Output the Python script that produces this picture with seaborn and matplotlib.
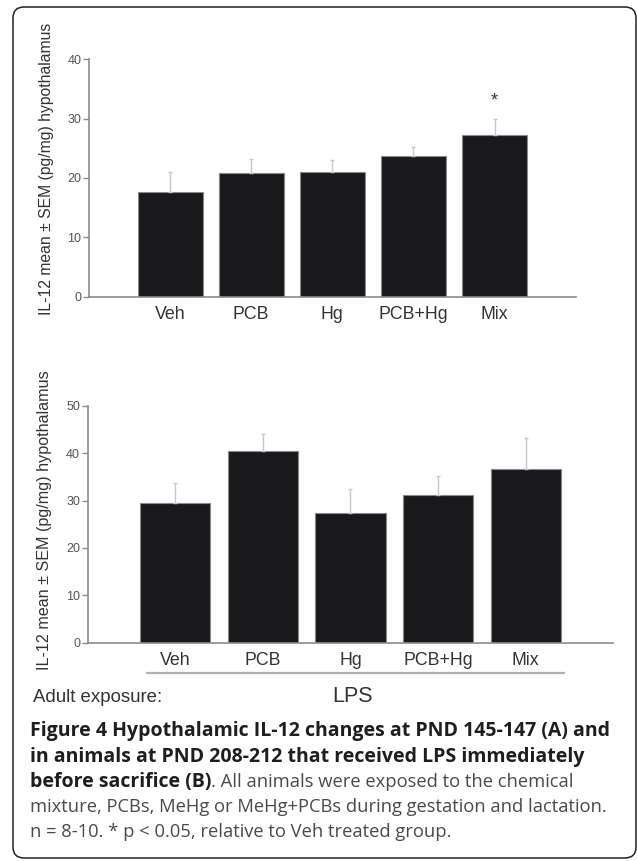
import matplotlib
matplotlib.use("Agg")
import matplotlib.pyplot as plt
import seaborn as sns
import numpy as np
import pandas as pd
from matplotlib.patches import FancyBboxPatch
from matplotlib.lines import Line2D
from matplotlib.transforms import IdentityTransform

# ---- data ----
groups = ["Veh", "PCB", "Hg", "PCB+Hg", "Mix"]
pnd145_mean = [17.7, 20.9, 21.0, 23.7, 27.2]
pnd145_sem = [3.3, 2.3, 2.1, 1.5, 2.8]
lps_mean = [29.5, 40.4, 27.4, 31.2, 36.6]
lps_sem = [4.1, 3.6, 5.0, 3.9, 6.5]
top_ticks = [0, 10, 20, 30, 40]
bot_ticks = [0, 10, 20, 30, 40, 50]
sig_top = ["", "", "", "", "*"]

ylabel = "IL-12 mean \u00b1 SEM (pg/mg) hypothalamus"

sns.set_theme(style="white")
plt.rcParams["font.family"] = ["Liberation Sans", "DejaVu Sans"]

W, H = 637, 861
fig = plt.figure(figsize=(W / 100, H / 100), dpi=100)
fig.patch.set_facecolor("white")

BAR = "#19191b"
EDGE = "#8a8a8a"
AXC = "#8c8c8c"
TXT = "#333333"
ERR = "#c8c8c8"


def px_ax(x0, x1, y_top, y_bot):
    return fig.add_axes([x0 / W, 1 - y_bot / H, (x1 - x0) / W, (y_bot - y_top) / H])


def draw(ax, means, sems, ticks, ymax, sig=None):
    df = pd.DataFrame({"group": groups, "value": means})
    sns.barplot(data=df, x="group", y="value", order=groups, color=BAR,
                width=0.8, edgecolor=EDGE, linewidth=0.8, saturation=1,
                errorbar=None, ax=ax)
    xs = np.arange(len(groups))
    ax.errorbar(xs, means, yerr=[np.zeros(len(sems)), sems], fmt="none",
                ecolor=ERR, elinewidth=1.0, capsize=1.5, capthick=1.0, zorder=1)
    if sig is not None:
        for x, m, s, t in zip(xs, means, sems, sig):
            if t:
                ax.text(x, m + s + 1.6, t, ha="center", va="bottom",
                        fontsize=13, color=TXT)
    ax.set_xlim(-1, 5)
    ax.set_ylim(0, ymax)
    ax.set_yticks(ticks)
    ax.set_yticklabels([str(t) for t in ticks])
    ax.set_xlabel("")
    ax.set_ylabel("")
    for s in ["top", "right"]:
        ax.spines[s].set_visible(False)
    for s in ["left", "bottom"]:
        ax.spines[s].set_color(AXC)
        ax.spines[s].set_linewidth(1.2)
    ax.tick_params(axis="y", which="both", left=True, length=4, width=1.0,
                   color=AXC, pad=1.5, labelsize=9, labelcolor="#555555")
    ax.tick_params(axis="x", which="both", bottom=False, length=0, pad=7,
                   labelsize=12.8, labelcolor=TXT)
    ax.set_facecolor("none")


ax1 = px_ax(89, 575.7, 59.3, 296.7)
draw(ax1, pnd145_mean, pnd145_sem, top_ticks, 40, sig_top)

ax2 = px_ax(87.7, 613.3, 405.7, 642.7)
draw(ax2, lps_mean, lps_sem, bot_ticks, 50)

fig.text(47 / W, 1 - 169 / H, ylabel, rotation=90, ha="center", va="center",
         fontsize=11.3, color=TXT)
fig.text(45 / W, 1 - 520 / H, ylabel, rotation=90, ha="center", va="center",
         fontsize=11.6, color=TXT)

# bracket line for LPS group
fig.add_artist(Line2D([146.7 / W, 564 / W], [1 - 672.7 / H, 1 - 672.7 / H],
                      color="#b0b0b0", linewidth=1.6))
fig.text(33 / W, 1 - 697 / H, "Adult exposure:", ha="left", va="center",
         fontsize=13.4, color=TXT)
fig.text(352.5 / W, 1 - 697 / H, "LPS", ha="center", va="center",
         fontsize=15.5, color=TXT)

# caption
cap_font = ["Open Sans", "DejaVu Sans"]
cap_size = 14
reg_size = 13.2
bold_lines = ["Figure 4 Hypothalamic IL-12 changes at PND 145-147 (A) and",
              "in animals at PND 208-212 that received LPS immediately",
              "before sacrifice (B)"]
reg_tail = ". All animals were exposed to the chemical"
reg_lines = ["mixture, PCBs, MeHg or MeHg+PCBs during gestation and lactation.",
             "n = 8-10. * p < 0.05, relative to Veh treated group."]
line_y = [731, 757, 782, 807, 832]
cx = 30 / W
renderer = fig.canvas.get_renderer()
for i, t in enumerate(bold_lines):
    tt = fig.text(cx, 1 - line_y[i] / H, t, ha="left", va="center",
                  fontsize=cap_size, fontweight="bold", color="#1e1e1e",
                  family=cap_font)
last = tt
bb = last.get_window_extent(renderer=renderer)
fig.text(bb.x1 / W, 1 - line_y[2] / H, reg_tail, ha="left", va="center",
         fontsize=reg_size, color="#4a4a4a", family=cap_font)
for j, t in enumerate(reg_lines):
    fig.text(cx, 1 - line_y[3 + j] / H, t, ha="left", va="center",
             fontsize=reg_size, color="#4a4a4a", family=cap_font)

# rounded frame
frame = FancyBboxPatch((13, H - 858), 623, 851,
                       boxstyle="round,pad=0,rounding_size=11",
                       transform=IdentityTransform(), facecolor="none",
                       edgecolor="#222222", linewidth=1.1)
fig.add_artist(frame)

fig.savefig("out.png", dpi=100)
